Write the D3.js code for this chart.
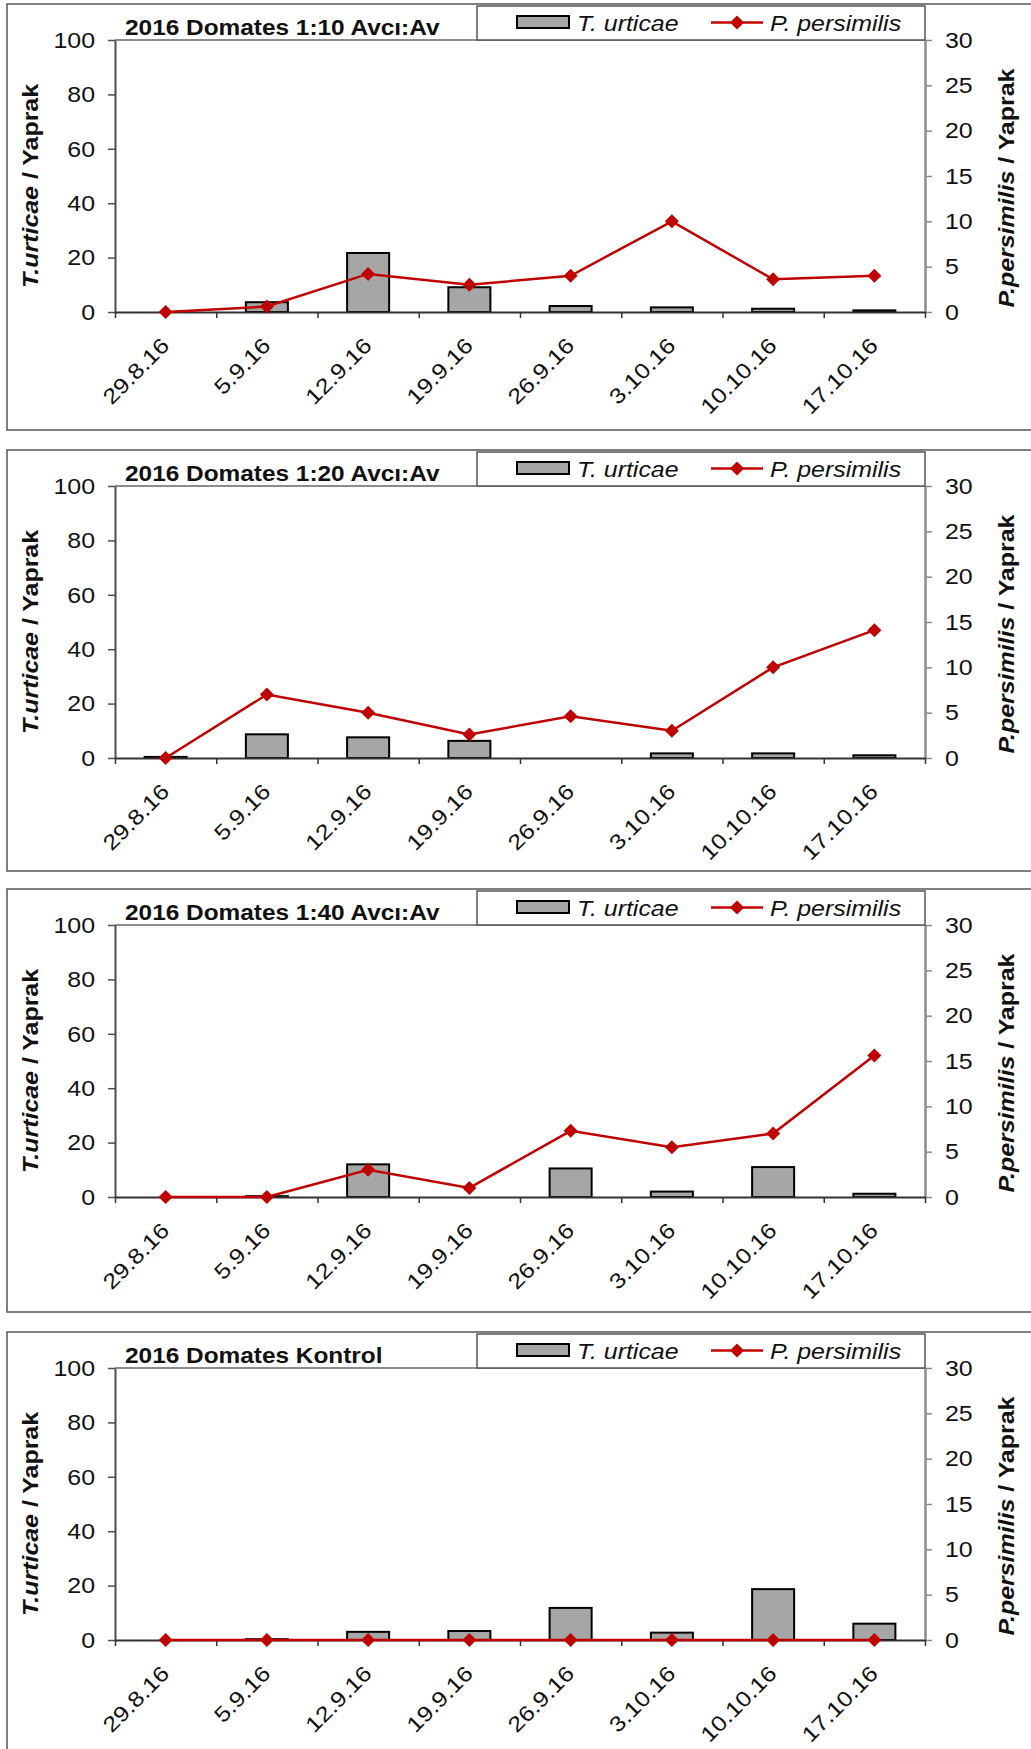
<!DOCTYPE html>
<html>
<head>
<meta charset="utf-8">
<script src="https://cdn.jsdelivr.net/npm/d3@7"></script>
<style>
  body { margin: 0; background: #fff; }
  svg { display: block; font-family: "Liberation Sans", Arial, sans-serif; }
</style>
</head>
<body>
<svg id="chart" width="1031" height="1749"></svg>
<script>
// Sampling dates (x categories)
const dates = ["29.8.16", "5.9.16", "12.9.16", "19.9.16", "26.9.16", "3.10.16", "10.10.16", "17.10.16"];

// Panel titles
const panelTitles = ["2016 Domates 1:10 Avcı:Av", "2016 Domates 1:20 Avcı:Av", "2016 Domates 1:40 Avcı:Av", "2016 Domates Kontrol"];

// T. urticae per leaf (bars, left axis)
const urticae_110 = [0, 3.6, 21.7, 9.1, 2.2, 1.7, 1.2, 0.6];
const urticae_120 = [0.4, 8.7, 7.6, 6.3, 0, 1.7, 1.7, 1.0];
const urticae_140 = [0, 0.3, 12.0, 0, 10.5, 2.0, 11.0, 1.2];
const urticae_kontrol = [0, 0.3, 3.0, 3.3, 11.8, 2.7, 18.7, 6.0];

// P. persimilis per leaf (line, right axis)
const persimilis_110 = [0, 0.6, 4.2, 3.0, 4.0, 10.0, 3.6, 4.0];
const persimilis_120 = [0, 7.0, 5.0, 2.6, 4.6, 3.0, 10.0, 14.1];
const persimilis_140 = [0, 0, 3.0, 1.0, 7.3, 5.5, 7.0, 15.6];
const persimilis_kontrol = [0, 0, 0, 0, 0, 0, 0, 0];

// Axis ticks
const leftTicks = [0, 20, 40, 60, 80, 100];
const rightTicks = [0, 5, 10, 15, 20, 25, 30];

const barSeries = [urticae_110, urticae_120, urticae_140, urticae_kontrol];
const lineSeries = [persimilis_110, persimilis_120, persimilis_140, persimilis_kontrol];

// Layout
const frameTops = [4, 450, 889, 1332];
const frameBottoms = [430, 871, 1312, 1800];
const plotLeft = 115, plotRight = 925, plotH = 272;
const fs = 21.5;
const stretch = " scale(1.16,1)";   // the original font runs wider than Arial
const red = "#c00000";

const svg = d3.select("#chart");

// Category slots, ticks sit on the slot edges
let xSlot = d3.scaleBand().domain(dates).range([plotLeft, plotRight]).padding(0);
let xEdge = d3.scaleLinear().domain([0, dates.length]).range([plotLeft, plotRight]);
let barW = xSlot.bandwidth() * 0.415;

let diamond = d3.symbol().type(d3.symbolSquare).size(98);

panelTitles.forEach(function (title, p) {

    let top = frameTops[p];
    let plotTop = top + 36;
    let plotBottom = plotTop + plotH;

    let yL = d3.scaleLinear().domain([0, 100]).range([plotBottom, plotTop]);
    let yR = d3.scaleLinear().domain([0, 30]).range([plotBottom, plotTop]);

    let g = svg.append("g");

    // Outer frame (right side runs off the page)
    g.append("path")
        .attr("d", `M1040,${top} H7 V${frameBottoms[p]} H1040`)
        .attr("fill", "none")
        .attr("stroke", "#555")
        .attr("stroke-width", 1.5);

    // Plot area top border
    g.append("line")
        .attr("x1", plotLeft).attr("x2", plotRight)
        .attr("y1", plotTop).attr("y2", plotTop)
        .attr("stroke", "#8c8c8c").attr("stroke-width", 2);

    // Bars
    let bars = barSeries[p];
    g.selectAll("rect.bar")
        .data(dates.map((d, i) => ({ date: d, v: bars[i] })).filter(d => d.v > 0))
        .join("rect")
        .attr("class", "bar")
        .attr("x", d => xSlot(d.date) + (xSlot.bandwidth() - barW) / 2)
        .attr("y", d => yL(d.v))
        .attr("width", barW)
        .attr("height", d => yL(0) - yL(d.v))
        .attr("fill", "#a6a6a6")
        .attr("stroke", "#000")
        .attr("stroke-width", 2);

    // Left axis
    let axL = g.append("g")
        .attr("transform", `translate(${plotLeft},0)`)
        .call(d3.axisLeft(yL).tickValues(leftTicks).tickSize(7).tickSizeOuter(0).tickFormat(""));
    axL.select(".domain").attr("stroke", "#4d4d4d").attr("stroke-width", 2);
    axL.selectAll(".tick line").attr("stroke", "#4d4d4d").attr("stroke-width", 1.5);

    // Right axis
    let axR = g.append("g")
        .attr("transform", `translate(${plotRight},0)`)
        .call(d3.axisRight(yR).tickValues(rightTicks).tickSize(7).tickSizeOuter(0).tickFormat(""));
    axR.select(".domain").attr("stroke", "#8c8c8c").attr("stroke-width", 2.5);
    axR.selectAll(".tick line").attr("stroke", "#8c8c8c").attr("stroke-width", 1.5);

    // X axis with ticks on category edges
    let axX = g.append("g")
        .attr("transform", `translate(0,${plotBottom})`)
        .call(d3.axisBottom(xEdge).tickValues(d3.range(dates.length + 1)).tickSize(6).tickSizeOuter(0).tickFormat(""));
    axX.select(".domain").attr("stroke", "#333").attr("stroke-width", 2);
    axX.selectAll(".tick line").attr("stroke", "#333").attr("stroke-width", 1.5);

    // Tick labels
    g.selectAll("text.yl")
        .data(leftTicks)
        .join("text")
        .attr("class", "yl")
        .attr("transform", d => `translate(95,${yL(d) + 7.7})` + stretch)
        .attr("text-anchor", "end")
        .attr("font-size", fs)
        .attr("fill", "#111")
        .text(d => d);

    g.selectAll("text.yr")
        .data(rightTicks)
        .join("text")
        .attr("class", "yr")
        .attr("transform", d => `translate(945,${yR(d) + 7.7})` + stretch)
        .attr("font-size", fs)
        .attr("fill", "#111")
        .text(d => d);

    g.selectAll("text.xl")
        .data(dates)
        .join("text")
        .attr("class", "xl")
        .attr("transform", d => `translate(${xSlot(d) + xSlot.bandwidth() / 2 + 5},${plotBottom + 35}) rotate(-45)` + stretch)
        .attr("text-anchor", "end")
        .attr("font-size", fs)
        .attr("fill", "#111")
        .text(d => d);

    // P. persimilis line + markers
    let pts = dates.map((d, i) => [xSlot(d) + xSlot.bandwidth() / 2, yR(lineSeries[p][i])]);
    g.append("path")
        .attr("d", d3.line()(pts))
        .attr("fill", "none")
        .attr("stroke", red)
        .attr("stroke-width", 2.5);
    g.selectAll("path.mark")
        .data(pts)
        .join("path")
        .attr("class", "mark")
        .attr("d", diamond)
        .attr("transform", d => `translate(${d[0]},${d[1]}) rotate(45)`)
        .attr("fill", red);

    // Axis titles
    let midY = (plotTop + plotBottom) / 2;
    let lt = g.append("text")
        .attr("transform", `translate(38,${midY + 10}) rotate(-90)` + stretch)
        .attr("text-anchor", "middle")
        .attr("font-size", fs)
        .attr("font-weight", "bold")
        .attr("fill", "#111");
    lt.append("tspan").attr("font-style", "italic").text("T.urticae");
    lt.append("tspan").text(" / Yaprak");

    let rt = g.append("text")
        .attr("transform", `translate(1014,${midY + 12}) rotate(-90)` + stretch)
        .attr("text-anchor", "middle")
        .attr("font-size", fs)
        .attr("font-weight", "bold")
        .attr("fill", "#111");
    rt.append("tspan").attr("font-style", "italic").text("P.persimilis");
    rt.append("tspan").text(" / Yaprak");

    // Panel title
    g.append("text")
        .attr("transform", `translate(125,${top + 31}) scale(1.135,1)`)
        .attr("font-size", fs)
        .attr("font-weight", "bold")
        .attr("fill", "#111")
        .text(title);

    // Legend
    let lg = g.append("g");
    lg.append("rect")
        .attr("x", 477).attr("y", top + 2)
        .attr("width", plotRight - 477).attr("height", plotTop - top - 2)
        .attr("fill", "#fff")
        .attr("stroke", "#555")
        .attr("stroke-width", 1.5);
    lg.append("rect")
        .attr("x", 517).attr("y", top + 12)
        .attr("width", 52).attr("height", 12)
        .attr("fill", "#a6a6a6")
        .attr("stroke", "#000")
        .attr("stroke-width", 2);
    lg.append("text")
        .attr("transform", `translate(577,${top + 26.5})` + stretch)
        .attr("font-size", fs)
        .attr("font-style", "italic")
        .attr("fill", "#111")
        .text("T. urticae");
    lg.append("line")
        .attr("x1", 711).attr("x2", 763)
        .attr("y1", top + 18.5).attr("y2", top + 18.5)
        .attr("stroke", red).attr("stroke-width", 2.5);
    lg.append("path")
        .attr("d", diamond)
        .attr("transform", `translate(737,${top + 18.5}) rotate(45)`)
        .attr("fill", red);
    lg.append("text")
        .attr("transform", `translate(770,${top + 26.5})` + stretch)
        .attr("font-size", fs)
        .attr("font-style", "italic")
        .attr("fill", "#111")
        .text("P. persimilis");
});
</script>
</body>
</html>
